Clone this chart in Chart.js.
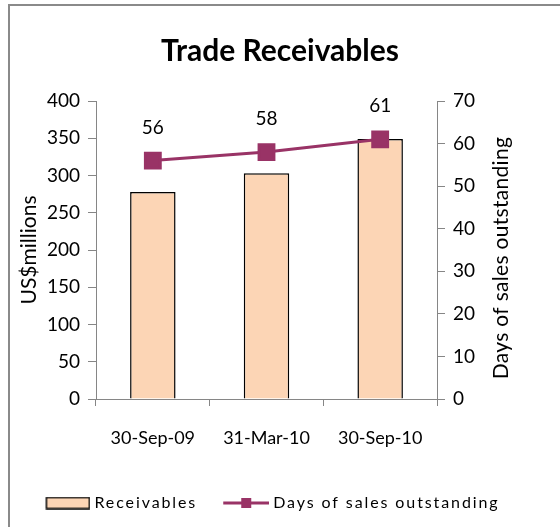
<!DOCTYPE html>
<html>
<head>
<meta charset="utf-8">
<script src="https://cdn.jsdelivr.net/npm/chart.js@4.4.1/dist/chart.umd.min.js"></script>
<style>
  html, body { margin: 0; padding: 0; background: #fff; }
  #wrap { position: relative; width: 560px; height: 527px; overflow: hidden; }
  #frame { position: absolute; left: 8px; top: 4px; width: 700px; height: 700px;
           border-left: 2px solid #8a8a8a; border-top: 2px solid #8a8a8a; }
  canvas { position: absolute; left: 0; top: 0; }
</style>
</head>
<body>
<div id="wrap">
  <div id="frame"></div>
  <canvas id="c" width="560" height="527"></canvas>
</div>
<script>
// data
const periods = ['30-Sep-09', '31-Mar-10', '30-Sep-10'];
const receivables = [278, 303, 349];
const days = [56, 58, 61];
const leftTicks = [0, 50, 100, 150, 200, 250, 300, 350, 400];
const rightTicks = [0, 10, 20, 30, 40, 50, 60, 70];

const BAR = '#FCD5B5', LINE = '#993366', AXIS = '#868686';

Chart.defaults.font.family = 'Lato';
Chart.defaults.color = '#000';

// legend swatches: 66px canvases in a 58px slot, drawn flush right so the
// text sits close to the swatch and the blank left part spaces the items
const barSw = document.createElement('canvas');
barSw.width = 66; barSw.height = 13;
(function () {
  const g = barSw.getContext('2d');
  g.fillStyle = BAR; g.fillRect(22, 1, 43, 11);
  g.strokeStyle = '#000'; g.lineWidth = 1.5; g.strokeRect(22, 1, 43, 11);
})();
const lineSw = document.createElement('canvas');
lineSw.width = 66; lineSw.height = 14;
(function () {
  const g = lineSw.getContext('2d');
  g.strokeStyle = LINE; g.lineWidth = 3;
  g.beginPath(); g.moveTo(20, 7); g.lineTo(66, 7); g.stroke();
  g.fillStyle = LINE; g.fillRect(38, 2, 10, 10);
})();

const extras = {
  id: 'extras',
  afterInit(chart) {
    // spaced-out legend text like the original
    const lg = chart.legend, fit = lg.fit.bind(lg), draw = lg.draw.bind(lg);
    lg.fit = function () { chart.ctx.letterSpacing = '1.9px'; fit(); chart.ctx.letterSpacing = '0px'; };
    lg.draw = function () {
      const ctx = chart.ctx;
      ctx.save();
      ctx.translate(-16, 0);
      ctx.letterSpacing = '1.9px';
      draw();
      ctx.restore();
      ctx.letterSpacing = '0px';
    };
  },
  afterDatasetsDraw(chart) {
    const ctx = chart.ctx, meta = chart.getDatasetMeta(0);
    ctx.save();
    ctx.font = '19px Lato';
    ctx.fillStyle = '#000';
    ctx.textAlign = 'center';
    ctx.textBaseline = 'middle';
    meta.data.forEach((pt, i) => ctx.fillText(String(days[i]), pt.x, pt.y - 33));
    ctx.restore();
  },
  afterDraw(chart) {
    const ctx = chart.ctx, a = chart.chartArea;
    ctx.save();
    ctx.font = '21px Lato';
    ctx.letterSpacing = '0.3px';
    ctx.fillStyle = '#000';
    ctx.textAlign = 'center';
    ctx.textBaseline = 'middle';
    ctx.translate(501, (a.top + a.bottom) / 2 + 8);
    ctx.rotate(-Math.PI / 2);
    ctx.fillText('Days of sales outstanding', 0, 0);
    ctx.restore();
  }
};

new Chart(document.getElementById('c').getContext('2d'), {
  type: 'bar',
  data: {
    labels: periods,
    datasets: [
      { type: 'line', label: 'Days of sales outstanding', data: days, yAxisID: 'y2',
        borderColor: LINE, backgroundColor: LINE, borderWidth: 3,
        pointStyle: 'rect', pointRadius: 10.5, pointHoverRadius: 10.5, order: 0 },
      { type: 'bar', label: 'Receivables', data: receivables, yAxisID: 'y',
        backgroundColor: BAR, borderColor: '#000', borderWidth: 1.5,
        categoryPercentage: 1, barPercentage: 0.4, order: 1 }
    ]
  },
  options: {
    responsive: false,
    animation: false,
    layout: { padding: { left: 0, right: 0, top: 0, bottom: 6 } },
    plugins: {
      title: { display: true, text: 'Trade Receivables', color: '#000',
               font: { family: 'Lato', size: 30, weight: 'bold' },
               padding: { top: 33, bottom: 32 } },
      legend: {
        position: 'bottom',
        labels: {
          usePointStyle: true, pointStyleWidth: 58, padding: 10,
          font: { size: 16 }, color: '#000',
          generateLabels(chart) {
            return [
              { text: 'Receivables', pointStyle: barSw, datasetIndex: 1, lineWidth: 0, fillStyle: BAR, strokeStyle: '#000' },
              { text: 'Days of sales outstanding', pointStyle: lineSw, datasetIndex: 0, lineWidth: 0, fillStyle: LINE, strokeStyle: LINE }
            ];
          }
        }
      },
      tooltip: { enabled: false }
    },
    scales: {
      x: {
        grid: { offset: true, drawOnChartArea: false, tickLength: 7, color: AXIS },
        border: { color: AXIS },
        ticks: { padding: 21, font: { size: 18 }, maxRotation: 0 },
        afterFit(s) { s.height = 86; }
      },
      y: {
        position: 'left', min: 0, max: 400,
        afterBuildTicks(s) { s.ticks = leftTicks.map(v => ({ value: v })); },
        grid: { drawOnChartArea: false, tickLength: 8, color: AXIS },
        border: { color: AXIS },
        ticks: { padding: 8, font: { size: 19 } },
        title: { display: true, text: 'US$millions', font: { size: 21 }, padding: { top: 17, bottom: 0 } },
        afterFit(s) { s.width = 96; }
      },
      y2: {
        position: 'right', min: 0, max: 70,
        afterBuildTicks(s) { s.ticks = rightTicks.map(v => ({ value: v })); },
        grid: { drawOnChartArea: false, tickLength: 8, color: AXIS },
        border: { color: AXIS },
        ticks: { padding: 8, font: { size: 19 } },
        afterFit(s) { s.width = 123; }
      }
    }
  },
  plugins: [extras]
});
</script>
</body>
</html>
